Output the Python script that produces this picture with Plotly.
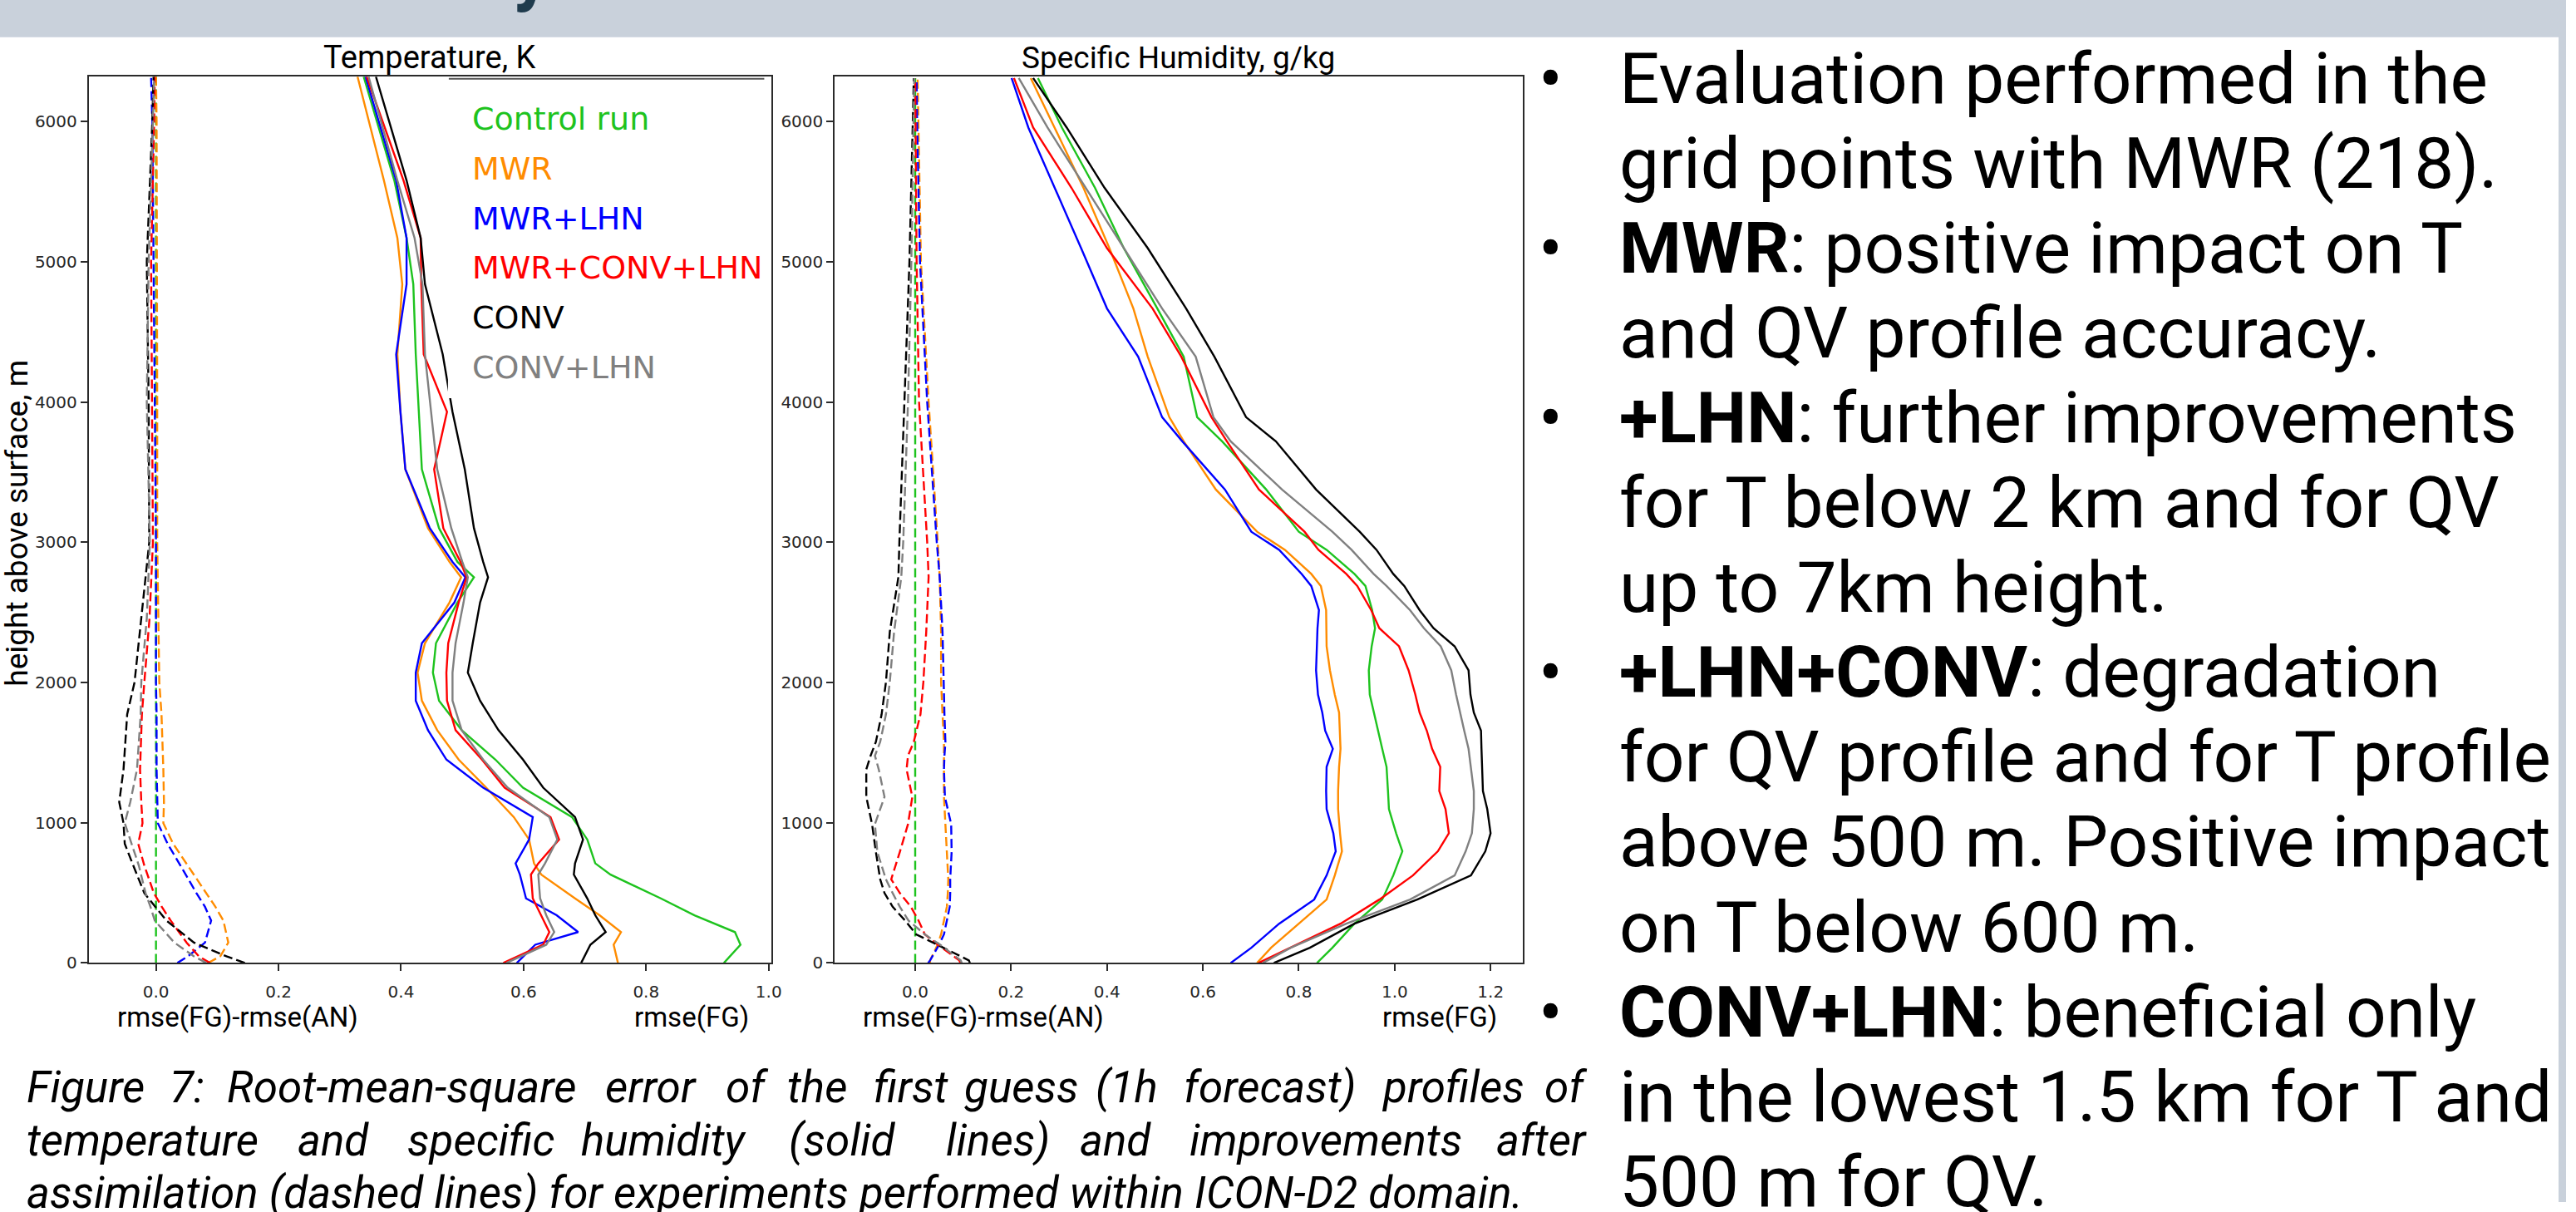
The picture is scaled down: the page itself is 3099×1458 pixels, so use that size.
import plotly.graph_objects as go

W, H = 3099, 1458

# ------------------------------------------------------------------ data
EXPERIMENTS = ["Control run", "MWR", "MWR+LHN", "MWR+CONV+LHN", "CONV", "CONV+LHN"]
COLORS = ["#1ec31e", "#ff8c00", "#0000ff", "#ff0000", "#000000", "#808080"]

# Temperature, rmse(FG) (solid lines)
T_HEIGHT = [0, 130, 220, 340, 460, 630, 710, 880, 1040, 1250, 1450, 1660, 1870,
            2070, 2280, 2570, 2750, 2860, 3100, 3520, 3930, 4340, 4840, 5170, 5580, 6320]
T_FG_CONTROL = [0.927, 0.954, 0.945, 0.879, 0.824, 0.742, 0.717, 0.704, 0.679, 0.599, 0.554, 0.499, 0.462,
                0.452, 0.457, 0.492, 0.519, 0.492, 0.462, 0.434, 0.429, 0.424, 0.420, 0.409, 0.389, 0.339]
T_FG_MWR = [0.754, 0.747, 0.759, 0.724, 0.684, 0.629, 0.617, 0.609, 0.584, 0.539, 0.494, 0.459, 0.434,
            0.427, 0.439, 0.479, 0.498, 0.479, 0.444, 0.407, 0.399, 0.394, 0.402, 0.394, 0.372, 0.329]
T_FG_MWR_LHN = [0.589, 0.619, 0.689, 0.654, 0.604, 0.594, 0.587, 0.609, 0.615, 0.534, 0.474, 0.444, 0.424,
                0.424, 0.434, 0.487, 0.505, 0.484, 0.447, 0.407, 0.399, 0.392, 0.409, 0.409, 0.392, 0.342]
T_FG_MWR_CONV_LHN = [0.567, 0.632, 0.642, 0.629, 0.615, 0.612, 0.624, 0.658, 0.644, 0.569, 0.532, 0.489, 0.475,
                     0.474, 0.477, 0.494, 0.507, 0.497, 0.469, 0.454, 0.475, 0.437, 0.433, 0.432, 0.404, 0.344]
T_FG_CONV = [0.694, 0.709, 0.734, 0.717, 0.704, 0.682, 0.684, 0.697, 0.684, 0.632, 0.599, 0.559, 0.529,
             0.509, 0.517, 0.529, 0.542, 0.534, 0.519, 0.504, 0.484, 0.468, 0.439, 0.432, 0.409, 0.359]
T_FG_CONV_LHN = [0.572, 0.637, 0.650, 0.637, 0.627, 0.624, 0.635, 0.655, 0.642, 0.574, 0.534, 0.499, 0.484,
                 0.484, 0.489, 0.502, 0.509, 0.500, 0.482, 0.459, 0.449, 0.439, 0.435, 0.422, 0.394, 0.347]

# Temperature, rmse(FG)-rmse(AN) (dashed lines)
TD_HEIGHT = [0, 47, 145, 302, 400, 498, 694, 850, 997, 1146, 1380, 1773, 2002, 2459,
             3000, 4000, 5000, 6000, 6320]
TD_CONTROL = [0.0, 0.0, 0.0, 0.0, 0.0, 0.0, 0.0, 0.0, 0.0, 0.0, 0.0, 0.0, 0.0, 0.0,
              0.0, 0.0, 0.0, 0.0, 0.0]
TD_MWR = [0.085, 0.105, 0.118, 0.110, 0.097, 0.082, 0.053, 0.028, 0.012, 0.013, 0.012, 0.009, 0.0054, 0.004,
          0.002, 0.002, 0.002, 0.001, 0.0]
TD_MWR_LHN = [0.035, 0.052, 0.080, 0.090, 0.080, 0.066, 0.040, 0.019, 0.003, 0.002, 0.001, 0.001, 0.0, 0.0,
              0.0, -0.002, -0.004, -0.006, -0.008]
TD_MWR_CONV_LHN = [0.088, 0.070, 0.050, 0.024, 0.0095, -0.0035, -0.019, -0.029, -0.022, -0.024, -0.026, -0.023,
                   -0.019, -0.0105, -0.005, -0.007, -0.008, -0.003, -0.002]
TD_CONV = [0.145, 0.115, 0.062, 0.017, -0.001, -0.019, -0.037, -0.051, -0.053, -0.060, -0.053, -0.047, -0.035,
           -0.024, -0.011, -0.012, -0.015, -0.006, -0.004]
TD_CONV_LHN = [0.082, 0.062, 0.030, -0.002, -0.009, -0.017, -0.028, -0.040, -0.051, -0.042, -0.031, -0.025,
               -0.024, -0.015, -0.010, -0.015, -0.012, -0.005, -0.003]

# Specific humidity, rmse(FG) (solid lines)
Q_HEIGHT = [0, 108, 280, 452, 624, 796, 925, 1097, 1226, 1398, 1527, 1656, 1785, 1914, 2086, 2258,
            2387, 2516, 2688, 2774, 2946, 3075, 3376, 3720, 3892, 4323, 4667, 5097, 5527, 5957, 6310]
Q_FG_CONTROL = [0.838, 0.870, 0.916, 0.974, 0.997, 1.016, 1.003, 0.988, 0.986, 0.983, 0.974, 0.965, 0.957,
                0.948, 0.946, 0.952, 0.959, 0.953, 0.939, 0.916, 0.858, 0.800, 0.732, 0.640, 0.588, 0.560,
                0.505, 0.435, 0.375, 0.306, 0.256]
Q_FG_MWR = [0.713, 0.742, 0.800, 0.858, 0.875, 0.890, 0.886, 0.882, 0.882, 0.884, 0.887, 0.886, 0.884,
            0.875, 0.865, 0.858, 0.857, 0.857, 0.846, 0.826, 0.771, 0.713, 0.627, 0.560, 0.530, 0.485,
            0.455, 0.405, 0.351, 0.291, 0.241]
Q_FG_MWR_LHN = [0.658, 0.701, 0.759, 0.832, 0.858, 0.877, 0.872, 0.858, 0.857, 0.858, 0.871, 0.855, 0.849,
                0.840, 0.836, 0.837, 0.839, 0.842, 0.826, 0.806, 0.759, 0.701, 0.646, 0.557, 0.515, 0.465,
                0.400, 0.346, 0.291, 0.236, 0.201]
Q_FG_MWR_CONV_LHN = [0.716, 0.783, 0.887, 0.968, 1.038, 1.090, 1.113, 1.106, 1.093, 1.095, 1.078, 1.067,
                     1.052, 1.043, 1.029, 1.009, 0.968, 0.951, 0.922, 0.899, 0.841, 0.812, 0.717, 0.650,
                     0.618, 0.555, 0.495, 0.400, 0.326, 0.246, 0.206]
Q_FG_CONV = [0.748, 0.823, 0.916, 1.047, 1.159, 1.189, 1.200, 1.193, 1.184, 1.183, 1.181, 1.180, 1.165,
             1.158, 1.154, 1.125, 1.081, 1.052, 1.020, 0.997, 0.962, 0.927, 0.836, 0.752, 0.690, 0.624,
             0.565, 0.485, 0.395, 0.316, 0.246]
Q_FG_CONV_LHN = [0.725, 0.783, 0.899, 1.032, 1.125, 1.148, 1.161, 1.165, 1.165, 1.158, 1.154, 1.145, 1.136,
                 1.128, 1.118, 1.096, 1.061, 1.032, 0.983, 0.956, 0.910, 0.870, 0.765, 0.658, 0.622, 0.585,
                 0.515, 0.435, 0.356, 0.276, 0.216]

# Specific humidity, rmse(FG)-rmse(AN) (dashed lines)
QD_HEIGHT = [0, 18, 125, 204, 302, 400, 498, 596, 792, 990, 1184, 1380, 1478, 1576, 1773, 2002,
             2361, 2753, 3000, 4000, 5000, 6000, 6310]
QD_CONTROL = [0.0, 0.0, 0.0, 0.0, 0.0, 0.0, 0.0, 0.0, 0.0, 0.0, 0.0, 0.0, 0.0, 0.0, 0.0, 0.0,
              0.0, 0.0, 0.0, 0.0, 0.0, 0.0, 0.0]
QD_MWR = [0.031, 0.031, 0.046, 0.054, 0.060, 0.066, 0.068, 0.069, 0.066, 0.063, 0.060, 0.060, 0.060,
          0.060, 0.057, 0.054, 0.054, 0.051, 0.047, 0.028, 0.012, 0.006, 0.005]
QD_MWR_LHN = [0.027, 0.031, 0.049, 0.060, 0.066, 0.072, 0.073, 0.073, 0.076, 0.075, 0.062, 0.060, 0.061,
              0.063, 0.061, 0.059, 0.057, 0.051, 0.045, 0.025, 0.010, 0.004, 0.003]
QD_MWR_CONV_LHN = [0.094, 0.092, 0.049, 0.020, 0.007, -0.009, -0.032, -0.050, -0.032, -0.015, -0.006,
                   -0.018, -0.015, -0.003, 0.011, 0.017, 0.023, 0.028, 0.025, 0.008, 0.003, 0.001, 0.0]
QD_CONV = [0.114, 0.112, 0.049, 0.002, -0.021, -0.047, -0.064, -0.073, -0.082, -0.090, -0.102, -0.102,
           -0.093, -0.082, -0.070, -0.061, -0.053, -0.035, -0.033, -0.023, -0.012, -0.005, -0.003]
QD_CONV_LHN = [0.097, 0.095, 0.054, 0.020, -0.014, -0.032, -0.047, -0.061, -0.079, -0.084, -0.064, -0.076,
               -0.084, -0.073, -0.061, -0.053, -0.044, -0.029, -0.025, -0.015, -0.008, -0.003, -0.002]

T_TICKS = [0.0, 0.2, 0.4, 0.6, 0.8, 1.0]
Q_TICKS = [0.0, 0.2, 0.4, 0.6, 0.8, 1.0, 1.2]
H_TICKS = [0, 1000, 2000, 3000, 4000, 5000, 6000]

PANEL_TITLES = ["Temperature, K", "Specific Humidity, g/kg"]
XLABEL_LEFT = "rmse(FG)-rmse(AN)"
XLABEL_RIGHT = "rmse(FG)"
YLABEL = "height above surface, m"

CAPTION_1 = ["Figure", "7:", "Root-mean-square", "error", "of", "the", "first", "guess", "(1h",
             "forecast)", "profiles", "of"]
CAPTION_2 = ["temperature", "and", "specific", "humidity", "(solid", "lines)", "and", "improvements", "after"]
CAPTION_3 = "assimilation (dashed lines) for experiments performed within ICON-D2 domain."

BULLET_LINES = [
    ("•", "Evaluation performed in the"),
    ("", "grid points with MWR (218)."),
    ("•", "<b>MWR</b>: positive impact on T"),
    ("", "and QV profile accuracy."),
    ("•", "<b>+LHN</b>: further improvements"),
    ("", "for T below 2 km and for QV"),
    ("", "up to 7km height."),
    ("•", "<b>+LHN+CONV</b>: degradation"),
    ("", "for QV profile and for T profile"),
    ("", "above 500 m. Positive impact"),
    ("", "on T below 600 m."),
    ("•", "<b>CONV+LHN</b>: beneficial only"),
    ("", "in the lowest 1.5 km for T and"),
    ("", "500 m for QV."),
]

# ------------------------------------------------------------------ layout helpers
def px(x):
    return x / W


def py(y):
    return 1 - y / H


MPL = "DejaVu Sans"
SLIDE = "Roboto"
annotations = []
shapes = []


def add_text(x, y, s, size, family, color="#000000", xanchor="left", angle=0):
    annotations.append(dict(
        x=px(x), y=py(y), xref="paper", yref="paper", text=s, showarrow=False,
        xanchor=xanchor, yanchor="middle", textangle=angle, borderpad=0, borderwidth=0,
        font=dict(family=family, size=size, color=color)))


fig = go.Figure()

T_SOLID = [T_FG_CONTROL, T_FG_MWR, T_FG_MWR_LHN, T_FG_MWR_CONV_LHN, T_FG_CONV, T_FG_CONV_LHN]
T_DASH = [TD_CONTROL, TD_MWR, TD_MWR_LHN, TD_MWR_CONV_LHN, TD_CONV, TD_CONV_LHN]
Q_SOLID = [Q_FG_CONTROL, Q_FG_MWR, Q_FG_MWR_LHN, Q_FG_MWR_CONV_LHN, Q_FG_CONV, Q_FG_CONV_LHN]
Q_DASH = [QD_CONTROL, QD_MWR, QD_MWR_LHN, QD_MWR_CONV_LHN, QD_CONV, QD_CONV_LHN]

DASH = "11px,5px"
for name, col, ts, td, qs, qd in zip(EXPERIMENTS, COLORS, T_SOLID, T_DASH, Q_SOLID, Q_DASH):
    fig.add_trace(go.Scatter(x=td, y=TD_HEIGHT, mode="lines", name=name, showlegend=False,
                             line=dict(color=col, width=2.4, dash=DASH), xaxis="x", yaxis="y"))
    fig.add_trace(go.Scatter(x=ts, y=T_HEIGHT, mode="lines", name=name, showlegend=False,
                             line=dict(color=col, width=2.4), xaxis="x", yaxis="y"))
    fig.add_trace(go.Scatter(x=qd, y=QD_HEIGHT, mode="lines", name=name, showlegend=False,
                             line=dict(color=col, width=2.4, dash=DASH), xaxis="x2", yaxis="y2"))
    fig.add_trace(go.Scatter(x=qs, y=Q_HEIGHT, mode="lines", name=name, showlegend=False,
                             line=dict(color=col, width=2.4), xaxis="x2", yaxis="y2"))

AX = dict(showgrid=False, zeroline=False, showline=True, mirror=True, linecolor="#2a2a2a",
          linewidth=1.6, ticks="outside", ticklen=8, tickwidth=1.5, tickcolor="#2a2a2a",
          tickfont=dict(family=MPL, size=20, color="#262626"))
XAX = dict(AX, ticklabelstandoff=8)
Y_DOM = [py(1168), py(93)]

fig.update_layout(
    width=W, height=H, autosize=False,
    margin=dict(l=0, r=0, t=0, b=0, pad=0),
    paper_bgcolor="white", plot_bgcolor="white", showlegend=False,
    xaxis=dict(XAX, domain=[px(107), px(932)], range=[-0.110, 1.005], anchor="y",
               tickvals=T_TICKS, ticktext=[f"{v:.1f}" for v in T_TICKS]),
    yaxis=dict(AX, domain=Y_DOM, range=[0, 6320], anchor="x",
               tickvals=H_TICKS, ticktext=[str(v) for v in H_TICKS]),
    xaxis2=dict(XAX, domain=[px(1008), px(1839)], range=[-0.168, 1.267], anchor="y2",
                tickvals=Q_TICKS, ticktext=[f"{v:.1f}" for v in Q_TICKS]),
    yaxis2=dict(AX, domain=Y_DOM, range=[0, 6320], anchor="x2",
                tickvals=H_TICKS, ticktext=[str(v) for v in H_TICKS]),
)

# header band and right border
shapes.append(dict(type="rect", xref="paper", yref="paper", x0=0, x1=1, y0=py(45), y1=1,
                   fillcolor="#c9d1db", line=dict(width=0), layer="below"))
shapes.append(dict(type="rect", xref="paper", yref="paper", x0=px(3090), x1=1, y0=0, y1=1,
                   fillcolor="#c9d1db", line=dict(width=0), layer="below"))
# legend box (hides lines behind it)
shapes.append(dict(type="rect", xref="paper", yref="paper", x0=px(541), x1=px(925), y0=py(483), y1=py(96),
                   fillcolor="white", line=dict(width=0), layer="above"))
shapes.append(dict(type="line", xref="paper", yref="paper", x0=px(542), x1=px(923), y0=py(95.5), y1=py(95.5),
                   line=dict(color="#555555", width=2), layer="above"))

# cut-off descender of the slide title in the header
annotations.append(dict(x=px(642), y=py(18), xref="paper", yref="paper", text="<b>y</b>", showarrow=False,
                        xanchor="center", yanchor="bottom", borderpad=0, borderwidth=0,
                        font=dict(family=SLIDE, size=90, color="#1f3b4d")))

# panel titles and axis labels
add_text(519.5, 70, PANEL_TITLES[0], 38, SLIDE, xanchor="center")
add_text(1423, 70, PANEL_TITLES[1], 37, SLIDE, xanchor="center")
add_text(21, 634, YLABEL, 37, SLIDE, xanchor="center", angle=-90)
for cx in (287, 1188):
    add_text(cx, 1234, XLABEL_LEFT, 33, SLIDE, xanchor="center")
for cx in (835, 1739):
    add_text(cx, 1234, XLABEL_RIGHT, 33, SLIDE, xanchor="center")

# legend (coloured labels only)
LEG_BASE = [157, 218, 278, 338, 398, 459]
for name, col, b in zip(EXPERIMENTS, COLORS, LEG_BASE):
    add_text(570, b - 0.346 * 38, name, 38, MPL, color=col)

# caption: justified lines placed word by word, last line left aligned
CAP_SIZE = 53
CAP_LEFT1 = [32, 205, 274, 731, 876, 951, 1055, 1165, 1323, 1430, 1668]
CAP_LEFT2 = [32, 359, 492, 702, 953, 1142, 1304, 1437]
CAP_RIGHT = 1916
CAP_BASE = [1325, 1390, 1453]


def cap_y(b):
    return b - 0.342 * CAP_SIZE + 12


for words, lefts, base in ((CAPTION_1, CAP_LEFT1, CAP_BASE[0]), (CAPTION_2, CAP_LEFT2, CAP_BASE[1])):
    for w, lx in zip(words[:-1], lefts):
        add_text(lx, cap_y(base), f"<i>{w}</i>", CAP_SIZE, SLIDE)
    add_text(CAP_RIGHT, cap_y(base), f"<i>{words[-1]}</i>", CAP_SIZE, SLIDE, xanchor="right")
add_text(32, cap_y(CAP_BASE[2]), f"<i>{CAPTION_3}</i>", CAP_SIZE, SLIDE)

# bullet text on the right
TXT_SIZE = 85.5
for i, (bullet, line) in enumerate(BULLET_LINES):
    base = 125 + 102.9 * i
    yc = base - 0.342 * TXT_SIZE
    if bullet:
        add_text(1858, yc, bullet, TXT_SIZE, SLIDE)
    add_text(1956, yc, line, TXT_SIZE, SLIDE)

fig.update_layout(annotations=annotations, shapes=shapes)
fig.write_html("out.html", include_plotlyjs=True, config=dict(displayModeBar=False))
